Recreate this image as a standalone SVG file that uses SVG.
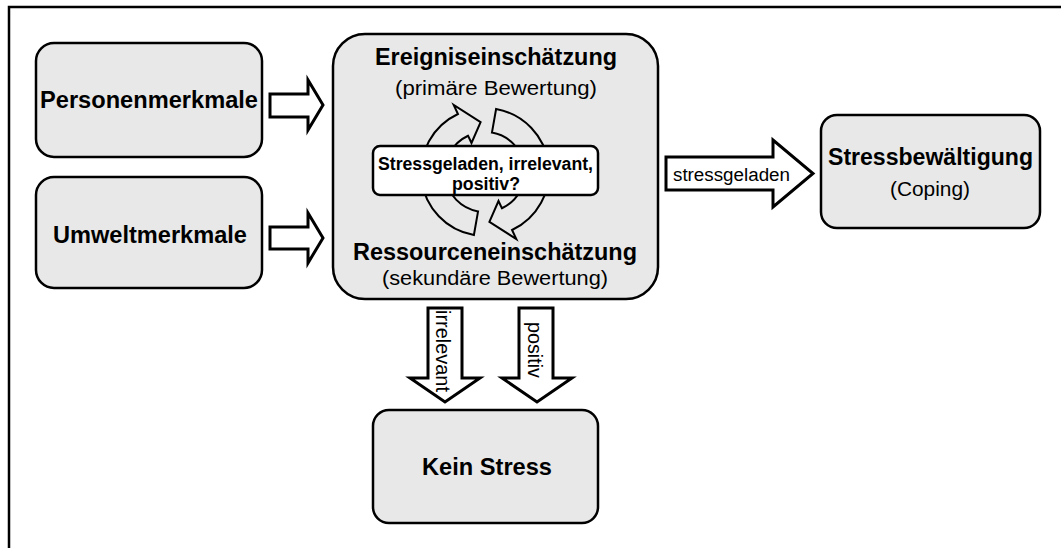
<svg xmlns="http://www.w3.org/2000/svg" width="1061" height="548" viewBox="0 0 1061 548">
<style>
.box{fill:#e8e8e8;stroke:#000;stroke-width:2.5}
.white{fill:#fff;stroke:#000;stroke-width:2.5}
.blk{fill:#fff;stroke:#000;stroke-width:3;stroke-linejoin:miter}
.cyc{fill:#e8e8e8;stroke:#000;stroke-width:2;stroke-linejoin:miter}
text{font-family:"Liberation Sans",Arial,sans-serif;fill:#000;text-anchor:middle}
.b{font-weight:bold}
</style>
<rect width="1061" height="548" fill="#fff"/>
<path d="M9,548 V7 H1061" fill="none" stroke="#000" stroke-width="2.5"/>

<g id="connectors">
  <polygon class="blk" points="270,94 308,94 308,80 323,105 308,130 308,117 270,117"/>
  <polygon class="blk" points="270,227 308,227 308,213 323,238 308,263 308,249 270,249"/>
  <polygon class="blk" points="666,157 773,157 773,140 813,173.5 773,207 773,190 666,190"/>
  <text x="731.5" y="181" font-size="18" textLength="117" lengthAdjust="spacingAndGlyphs">stressgeladen</text>
  <polygon class="blk" points="428,308 462,308 462,378 480,378 445,402 410,378 428,378"/>
  <text transform="translate(436,351) rotate(90)" font-size="20" textLength="82" lengthAdjust="spacingAndGlyphs">irrelevant</text>
  <polygon class="blk" points="519,308 553,308 553,378 572,378 537,402 502,378 519,378"/>
  <text transform="translate(528,350) rotate(90)" font-size="20" textLength="56" lengthAdjust="spacingAndGlyphs">positiv</text>
</g>

<g id="personenmerkmale">
  <rect class="box" x="36" y="43" width="226" height="114" rx="18"/>
  <text class="b" x="149" y="108" font-size="23.5" textLength="218" lengthAdjust="spacingAndGlyphs">Personenmerkmale</text>
</g>

<g id="umweltmerkmale">
  <rect class="box" x="36" y="177" width="226" height="111" rx="18"/>
  <text class="b" x="150" y="243" font-size="23.5" textLength="194" lengthAdjust="spacingAndGlyphs">Umweltmerkmale</text>
</g>

<g id="bewertung">
  <rect class="box" x="333" y="34" width="325" height="265" rx="32"/>
  <text class="b" x="496" y="65" font-size="23" textLength="242" lengthAdjust="spacingAndGlyphs">Ereigniseinschätzung</text>
  <text x="496" y="95" font-size="20" textLength="202" lengthAdjust="spacingAndGlyphs">(primäre Bewertung)</text>
  <g id="zyklus">
    <path class="cyc" d="M473.9,235 A64,64 0 0 1 457.95,114 L453.7,104.9 L480.6,122.2 L471.5,143 L468.1,135.75 A40,40 0 0 0 478.05,211.4 Z"/>
    <path class="cyc" transform="rotate(180 485 172)" d="M473.9,235 A64,64 0 0 1 457.95,114 L453.7,104.9 L480.6,122.2 L471.5,143 L468.1,135.75 A40,40 0 0 0 478.05,211.4 Z"/>
  </g>
  <text class="b" x="495" y="260" font-size="23" textLength="284" lengthAdjust="spacingAndGlyphs">Ressourceneinschätzung</text>
  <text x="495" y="285" font-size="20" textLength="226" lengthAdjust="spacingAndGlyphs">(sekundäre Bewertung)</text>
</g>

<g id="frage">
  <rect class="white" x="373" y="146" width="225" height="49" rx="7"/>
  <text class="b" x="485.5" y="170" font-size="18" textLength="215" lengthAdjust="spacingAndGlyphs">Stressgeladen, irrelevant,</text>
  <text class="b" x="486" y="190" font-size="18" textLength="68" lengthAdjust="spacingAndGlyphs">positiv?</text>
</g>

<g id="stressbewaeltigung">
  <rect class="box" x="821" y="115" width="219" height="113" rx="16"/>
  <text class="b" x="930.5" y="165" font-size="23" textLength="205" lengthAdjust="spacingAndGlyphs">Stressbewältigung</text>
  <text x="930" y="196" font-size="20" textLength="80" lengthAdjust="spacingAndGlyphs">(Coping)</text>
</g>

<g id="keinstress">
  <rect class="box" x="373" y="410" width="225" height="113" rx="16"/>
  <text class="b" x="487" y="475" font-size="24" textLength="130" lengthAdjust="spacingAndGlyphs">Kein Stress</text>
</g>
</svg>
